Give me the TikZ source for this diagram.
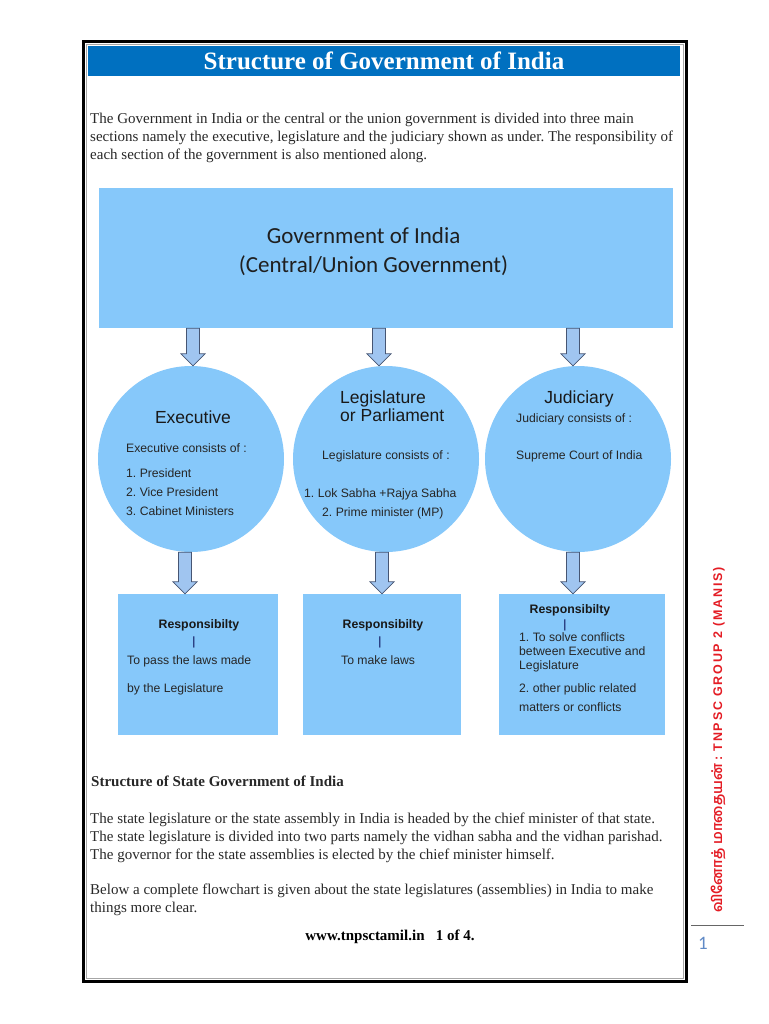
\documentclass[tikz,border=0pt]{standalone}
\usepackage{fontspec}
\setmainfont{Liberation Serif}
\setsansfont{Liberation Sans}
\newfontfamily\calibri{Carlito}
\newfontfamily\tamilfont[Script=Tamil]{Hind Madurai}
\usetikzlibrary{calc}
\definecolor{titleblue}{RGB}{0,112,192}
\definecolor{boxblue}{RGB}{134,200,250}
\definecolor{arrfill}{RGB}{160,197,240}
\definecolor{arrline}{RGB}{70,85,115}
\definecolor{bodytext}{RGB}{40,40,40}
\definecolor{sidered}{RGB}{228,28,36}
\definecolor{pagenum}{RGB}{96,138,198}
\frenchspacing

\begin{document}
\begin{tikzpicture}[x=1pt,y=-1pt,
	bluebox/.style={fill=boxblue, inner sep=0pt},
	branch/.style={shape=circle, fill=boxblue, inner sep=0pt, minimum size=186pt},
	resp/.style={fill=boxblue, inner sep=0pt, minimum height=141pt},
	blockarr/.style={draw=arrline, fill=arrfill, line width=0.7pt,
		to path={let \p1=(\tikztostart), \p2=(\tikztotarget) in
			(\x1-6.5pt,\y1) -- (\x1+6.5pt,\y1) -- (\x1+6.5pt,\y2+12pt) -- (\x1+12pt,\y2+12pt)
			-- (\x1,\y2) -- (\x1-12pt,\y2+12pt) -- (\x1-6.5pt,\y2+12pt) -- cycle}},
	body/.style={anchor=base west, inner sep=0pt, align=left, text=bodytext,
		font=\fontsize{15}{18}\selectfont},
	big/.style={anchor=base, inner sep=0pt, text=black!90, font=\sffamily\fontsize{17.5}{18}\selectfont},
	small/.style={anchor=base west, inner sep=0pt, text=black!85, font=\sffamily\fontsize{12.2}{14}\selectfont},
	resphead/.style={anchor=base, inner sep=0pt, text=black!90, font=\sffamily\bfseries\fontsize{12.3}{14}\selectfont},
	bar/.style={anchor=base, inner sep=0pt, text=black!70!blue, font=\sffamily\fontsize{12}{14}\selectfont}
]
	\fill[white] (0,0) rectangle (768,1024);
	\useasboundingbox (0,0) rectangle (768,1024);
	
	% page frame
	\draw[black, line width=3pt] (83.5,42) rectangle (686,981.5);
	\draw[gray!70, line width=1pt] (86.5,45) rectangle (683,978.5);
	\node[fill=titleblue, inner sep=0pt, minimum width=592pt, minimum height=30pt] (bar) at (384,61) {};
	\node[anchor=base, inner sep=0pt, text=white, font=\bfseries\fontsize{25}{28}\selectfont] (title) at (384,70) {Structure of Government of India};
	
	% last line baseline
	\node[body] (intro) at (90,160) {The Government in India or the central or the union government is divided into three main\\
		sections namely the executive, legislature and the judiciary shown as under. The responsibility of\\
		each section of the government is also mentioned along.};
	
	% central box and branches
	\node[bluebox, minimum width=574pt, minimum height=140pt] (gov) at (386,258) {};
	\node[inner sep=0pt, align=left, text=black!88, font=\calibri\fontsize{23}{29}\selectfont] (govtext) at (373.5,252) {\hspace*{28pt}Government of India\\(Central/Union Government)};
	
	\node[branch] (exec) at (191,459) {};
	\node[branch] (legis) at (386,459) {};
	\node[branch] (jud) at (578,459) {};
	
	\node[big] (exectitle) at (193,423) {Executive};
	\node[small] (exec0) at (126,452) {Executive consists of :};
	\node[small] (exec1) at (126,477) {1. President};
	\node[small] (exec2) at (126,496) {2. Vice President};
	\node[small] (exec3) at (126,515) {3. Cabinet Ministers};
	
	\node[big, anchor=base west] (legistitle) at (340,403) {Legislature};
	\node[big, anchor=base west] (legistitle2) at (340,421) {or Parliament};
	\node[small] (legis0) at (322,459) {Legislature consists of :};
	\node[small] (legis1) at (304,497) {1. Lok Sabha +Rajya Sabha};
	\node[small] (legis2) at (322,516) {2. Prime minister (MP)};
	
	\node[big] (judtitle) at (579,403) {Judiciary};
	\node[small] (jud0) at (516,422) {Judiciary consists of :};
	\node[small] (jud1) at (516,459) {Supreme Court of India};
	
	% responsibilities
	\node[resp, minimum width=160pt] (resp1) at (198,664.5) {};
	\node[resp, minimum width=158pt] (resp2) at (382,664.5) {};
	\node[resp, minimum width=166pt] (resp3) at (582,664.5) {};
	
	\node[resphead] (rhead1) at (199,628) {Responsibilty};
	\node[bar] (rbar1) at (194,645) {|};
	\node[small] (rtext1) at (127,664) {To pass the laws made};
	\node[small] (rtext1b) at (127,692) {by the Legislature};
	
	\node[resphead] (rhead2) at (383,628) {Responsibilty};
	\node[bar] (rbar2) at (380,645) {|};
	\node[small] (rtext2) at (341,664) {To make laws};
	
	\node[resphead] (rhead3) at (570,613) {Responsibilty};
	\node[bar] (rbar3) at (565,628) {|};
	\node[small] (rtext3) at (519,641) {1. To solve conflicts};
	\node[small] (rtext3b) at (519,655) {between Executive and};
	\node[small] (rtext3c) at (519,669) {Legislature};
	\node[small] (rtext3d) at (519,692) {2. other public related};
	\node[small] (rtext3e) at (519,711) {matters or conflicts};
	
	\draw[blockarr] ([xshift=2pt]gov.south -| exec.north) to ([xshift=2pt]exec.north);
	\draw[blockarr] ([xshift=-7pt]gov.south -| legis.north) to ([xshift=-7pt]legis.north);
	\draw[blockarr] ([xshift=-5pt]gov.south -| jud.north) to ([xshift=-5pt]jud.north);
	\draw[blockarr] ([xshift=-6pt]exec.south) to ([xshift=-6pt]exec.south |- resp1.north);
	\draw[blockarr] ([xshift=-4pt]legis.south) to ([xshift=-4pt]legis.south |- resp2.north);
	\draw[blockarr] ([xshift=-5pt]jud.south) to ([xshift=-5pt]jud.south |- resp3.north);
	
	% state government
	\node[body, font=\bfseries\fontsize{15}{18}\selectfont] (statehead) at (91,786) {Structure of State Government of India};
	\node[body] (state1) at (90,859) {The state legislature or the state assembly in India is headed by the chief minister of that state.\\
		The state legislature is divided into two parts namely the vidhan sabha and the vidhan parishad.\\
		The governor for the state assemblies is elected by the chief minister himself.};
	\node[body] (state2) at (90,912) {Below a complete flowchart is given about the state legislatures (assemblies) in India to make\\
		things more clear.};
	
	\node[anchor=base, inner sep=0pt, font=\bfseries\fontsize{15}{18}\selectfont] (footer) at (390,940) {www.tnpsctamil.in~~ 1 of 4.};
	
	% margin
	\node[rotate=90, inner sep=0pt, text=sidered, font=\bfseries\fontsize{12.5}{14}\selectfont] (side) at (718,740) {{\tamilfont\fontsize{14}{14}\selectfont வினோத் மாதையன்} {\sffamily\addfontfeature{LetterSpace=14}: TNPSC GROUP 2 (MANIS)}};
	\draw[gray!80!black, line width=0.8pt] (691,925) -- (744,925);
	\node[inner sep=0pt, text=pagenum, font=\calibri\fontsize{19}{20}\selectfont] (pageno) at (703,943) {1};
\end{tikzpicture}
\end{document}
